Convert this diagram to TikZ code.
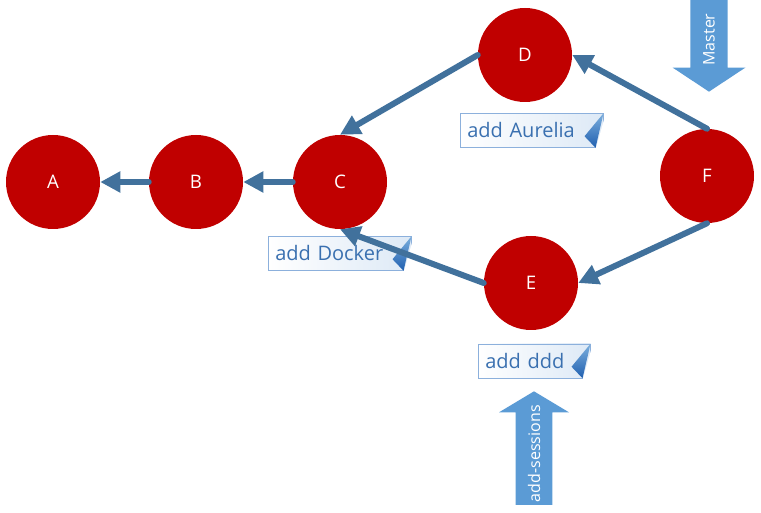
\documentclass[tikz,border=0pt]{standalone}
\usepackage{fontspec}
\setmainfont{Open Sans}
\usetikzlibrary{arrows.meta,calc,shapes.arrows}
\definecolor{commitred}{HTML}{C00000}
\definecolor{linkblue}{HTML}{41719C}
\definecolor{tagblue}{HTML}{5B9BD5}
\definecolor{msgtext}{HTML}{3A70B0}
\definecolor{msgline}{HTML}{8CB0DC}
\definecolor{msgfill}{HTML}{DDE9F6}
\definecolor{curldark}{HTML}{2060B0}
\def\curl#1{%
  \fill[white] ($(#1.north east)+(2,1)$) -- ($(#1.south east)+(2,2)$) -- ($(#1.south east)+(-8,2)$) -- cycle;
  \shade[top color=tagblue!80!white,bottom color=curldark] (#1.north east) -- ++(-19,23) -- ($(#1.south east)+(-8,0)$) -- cycle;}

\begin{document}
\begin{tikzpicture}[x=0.75pt,y=-0.75pt,
    commit/.style={circle,fill=commitred,text=white,minimum size=70.5pt,inner sep=0pt,font=\fontsize{14}{16}\selectfont},
    link/.style={draw=linkblue,line width=4.5pt,line cap=round,-{Triangle[length=15pt,width=15pt]}},
    msg/.style={draw=msgline,left color=white,right color=msgfill,text=msgtext,anchor=west,align=left,
        inner xsep=5.25pt,inner ysep=0pt,minimum height=25.5pt,font=\fontsize{15}{17}\selectfont},
    tagarrow/.style={single arrow,fill=tagblue,text=white,inner xsep=2pt,inner ysep=9pt,font=\fontsize{12}{14}\selectfont,rotate=90,anchor=tip}]
    \useasboundingbox (0,0) rectangle (761,513);
    % commits
    \node[commit] (A) at (53,182) {A};
    \node[commit] (B) at (196,182) {B};
    \node[commit] (C) at (340,182) {C};
    \node[commit] (D) at (525,55) {D};
    \node[commit] (E) at (531,283) {E};
    \node[commit] (F) at (707,176) {F};
    % parents
    \draw[link] (B.west)--(A.east);
    \draw[link] (C.west)--(B.east);
    \draw[link] (D.west)--(C.north);
    \draw[link] (F.north)--(D.east);
    \draw[link] (F.south)--(E.east);
    % commit messages
    \node[msg,text width=96.75pt] (aurelia) at (460,130.5) {add Aurelia};
    \curl{aurelia}
    \node[msg,text width=96.75pt] (docker) at (268,253.5) {add Docker};
    \curl{docker}
    \draw[link] (E.west)--(C.south);
    \node[msg,text width=73.5pt] (ddd) at (478,361) {add ddd};
    \curl{ddd}
    % branches
    \node[tagarrow,shape border rotate=180,minimum height=69pt,minimum width=54.75pt,
        single arrow head extend=13.1pt,single arrow tip angle=113] (master) at (709,92) {Master};
    \node[tagarrow,minimum height=84pt,minimum width=52.5pt,
        single arrow head extend=12.4pt,single arrow tip angle=118] (sessions) at (534,391) {add-sessions};
\end{tikzpicture}
\end{document}
